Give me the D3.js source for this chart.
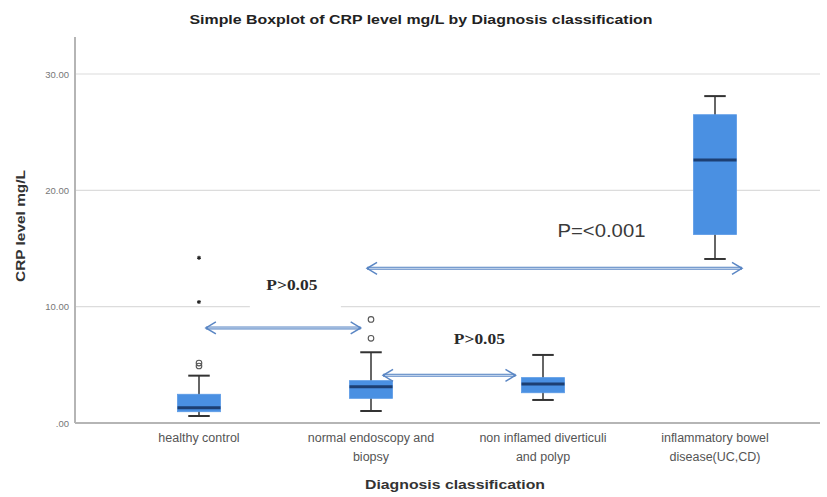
<!DOCTYPE html>
<html>
<head>
<meta charset="utf-8">
<script src="https://cdn.jsdelivr.net/npm/d3@7/dist/d3.min.js"></script>
<style>
  html, body { margin: 0; padding: 0; background: #fff; }
  svg { display: block; }
</style>
</head>
<body>
<svg id="chart" width="827" height="497"></svg>
<script>
// ---- data ----
const categories = [
  ["healthy control"],
  ["normal endoscopy and", "biopsy"],
  ["non inflamed diverticuli", "and polyp"],
  ["inflammatory bowel", "disease(UC,CD)"]
];
const categoryKeys = categories.map(c => c.join(" "));

// five-number summaries: lower whisker, Q1, median, Q3, upper whisker
const lowerWhisker = [0.6, 1.03, 1.98, 14.1];
const q1           = [0.97, 2.12, 2.6, 16.2];
const median       = [1.32, 3.12, 3.35, 22.6];
const q3           = [2.47, 3.64, 3.9, 26.5];
const upperWhisker = [4.07, 6.08, 5.85, 28.1];

// outliers (circles) and extremes (stars), by category index
const outliers = [[0, 5.15], [0, 4.9], [1, 8.9], [1, 7.28]];
const extremes = [[0, 14.2], [0, 10.4]];

const yTicks = [0, 10, 20, 30];

// comparison arrows: from/to in category-index units, at a CRP level
const comparisons = [
  { from: 0.04, to: 0.94, level: 8.17, x0: 0.54, y0: 11.7, label: "P>0.05",   kind: "serif" },
  { from: 1.07, to: 1.84, level: 4.1,  x0: 1.63, y0: 7.1,  label: "P>0.05",   kind: "serif" },
  { from: 0.977, to: 3.157, level: 13.3, x0: 2.34, y0: 16.4, label: "P=<0.001", kind: "sans" }
];

// ---- layout ----
const svg = d3.select("#chart");
const axisX0 = 75, axisX1 = 820, yTop = 37, yBottom = 423;

const x = d3.scalePoint().domain(categoryKeys).range([113, 801]).padding(0.5);
const xi = d3.scaleLinear().domain([0, categoryKeys.length - 1])
  .range([x(categoryKeys[0]), x(categoryKeys[categoryKeys.length - 1])]);
const y = d3.scaleLinear().domain([0, 30]).range([yBottom, 74]);
const boxW = x.step() * 0.25;
const capW = boxW * 0.5;

// title
svg.append("text")
  .attr("x", 421).attr("y", 24)
  .attr("text-anchor", "middle")
  .attr("font-family", "Liberation Sans, Arial, sans-serif")
  .attr("font-size", 12.5).attr("font-weight", "bold")
  .attr("fill", "#222")
  .attr("textLength", 463).attr("lengthAdjust", "spacingAndGlyphs")
  .text("Simple Boxplot of CRP level mg/L by Diagnosis classification");

// gridlines
svg.append("g").selectAll("line")
  .data(yTicks.filter(d => d > 0))
  .join("line")
  .attr("x1", axisX0).attr("x2", axisX1)
  .attr("y1", d => y(d)).attr("y2", d => y(d))
  .attr("stroke", "#dcdcdc").attr("stroke-width", 1.2);

// y axis
const yAxis = d3.axisLeft(y)
  .tickValues(yTicks)
  .tickSize(0)
  .tickPadding(6)
  .tickFormat(d => d === 0 ? ".00" : d3.format(".2f")(d));
const gy = svg.append("g").attr("transform", `translate(${axisX0},0)`).call(yAxis);
gy.select(".domain").remove();
gy.selectAll("text")
  .attr("font-family", "Liberation Sans, Arial, sans-serif")
  .attr("font-size", 9.5).attr("fill", "#777");

svg.append("line")
  .attr("x1", axisX0).attr("x2", axisX0)
  .attr("y1", yTop).attr("y2", yBottom)
  .attr("stroke", "#b5b5b5").attr("stroke-width", 2);
svg.append("line")
  .attr("x1", axisX0).attr("x2", axisX1)
  .attr("y1", yBottom).attr("y2", yBottom)
  .attr("stroke", "#b5b5b5").attr("stroke-width", 2);

// y axis title
svg.append("text")
  .attr("transform", `translate(25,226) rotate(-90)`)
  .attr("text-anchor", "middle")
  .attr("font-family", "Liberation Sans, Arial, sans-serif")
  .attr("font-size", 13).attr("font-weight", "bold")
  .attr("fill", "#333")
  .attr("textLength", 112).attr("lengthAdjust", "spacingAndGlyphs")
  .text("CRP level mg/L");

// x category labels
const xLab = svg.append("g")
  .attr("font-family", "Liberation Sans, Arial, sans-serif")
  .attr("font-size", 12.5).attr("fill", "#555")
  .attr("text-anchor", "middle");
categories.forEach((lines, i) => {
  lines.forEach((ln, j) => {
    xLab.append("text")
      .attr("x", x(categoryKeys[i]))
      .attr("y", 442 + j * 19)
      .text(ln);
  });
});

// x axis title
svg.append("text")
  .attr("x", 455).attr("y", 489)
  .attr("text-anchor", "middle")
  .attr("font-family", "Liberation Sans, Arial, sans-serif")
  .attr("font-size", 13).attr("font-weight", "bold")
  .attr("fill", "#333")
  .attr("textLength", 180).attr("lengthAdjust", "spacingAndGlyphs")
  .text("Diagnosis classification");

// boxes
const boxes = categoryKeys.map((k, i) => ({
  k, lo: lowerWhisker[i], q1: q1[i], med: median[i], q3: q3[i], hi: upperWhisker[i]
}));
const gb = svg.append("g").selectAll("g").data(boxes).join("g")
  .attr("transform", d => `translate(${x(d.k)},0)`);
gb.append("line")
  .attr("x1", 0).attr("x2", 0)
  .attr("y1", d => y(d.hi)).attr("y2", d => y(d.lo))
  .attr("stroke", "#333").attr("stroke-width", 1.5);
gb.append("line")
  .attr("x1", -capW / 2).attr("x2", capW / 2)
  .attr("y1", d => y(d.hi)).attr("y2", d => y(d.hi))
  .attr("stroke", "#333").attr("stroke-width", 2);
gb.append("line")
  .attr("x1", -capW / 2).attr("x2", capW / 2)
  .attr("y1", d => y(d.lo)).attr("y2", d => y(d.lo))
  .attr("stroke", "#333").attr("stroke-width", 2);
gb.append("rect")
  .attr("x", -boxW / 2).attr("width", boxW)
  .attr("y", d => y(d.q3)).attr("height", d => y(d.q1) - y(d.q3))
  .attr("fill", "#4a90e2").attr("stroke", "#5a9ae6").attr("stroke-width", 0.8);
gb.append("line")
  .attr("x1", -boxW / 2).attr("x2", boxW / 2)
  .attr("y1", d => y(d.med)).attr("y2", d => y(d.med))
  .attr("stroke", "#1d3f72").attr("stroke-width", 3);

// outliers
svg.append("g").selectAll("circle").data(outliers).join("circle")
  .attr("cx", d => x(categoryKeys[d[0]]))
  .attr("cy", d => y(d[1]))
  .attr("r", 2.8)
  .attr("fill", "none").attr("stroke", "#555").attr("stroke-width", 1.1);

// extremes
svg.append("g").selectAll("path").data(extremes).join("path")
  .attr("transform", d => `translate(${x(categoryKeys[d[0]])},${y(d[1])})`)
  .attr("d", d3.symbol(d3.symbolAsterisk, 12))
  .attr("fill", "none").attr("stroke", "#222").attr("stroke-width", 1.2);

// comparison arrows with labels
const arrowCol = "#5a86c4";
function chevron(g, px, py, dir) {
  const L = 10, H = 6;
  g.append("path")
    .attr("d", `M${px - dir * L},${py - H} L${px},${py} L${px - dir * L},${py + H}`)
    .attr("fill", "none").attr("stroke", arrowCol).attr("stroke-width", 1.5)
    .attr("stroke-linejoin", "miter");
}
comparisons.forEach(c => {
  const g = svg.append("g");
  const xa = xi(c.from), xb = xi(c.to), yy = y(c.level);
  if (c.kind === "serif") {
    // blank the gridline behind the label
    g.append("rect")
      .attr("x", xi(c.x0) - 42).attr("y", y(c.y0) - 17)
      .attr("width", 91).attr("height", 40)
      .attr("fill", "#fff");
  }
  g.append("line").attr("x1", xa).attr("x2", xb).attr("y1", yy).attr("y2", yy)
    .attr("stroke", arrowCol).attr("stroke-width", 3);
  g.append("line").attr("x1", xa + 2).attr("x2", xb - 2).attr("y1", yy).attr("y2", yy)
    .attr("stroke", "#d6e4f5").attr("stroke-width", 1);
  chevron(g, xa, yy, -1);
  chevron(g, xb, yy, 1);
  const t = g.append("text")
    .attr("x", xi(c.x0)).attr("y", y(c.y0))
    .attr("text-anchor", "middle")
    .attr("fill", "#2a2a2a")
    .text(c.label);
  if (c.kind === "serif") {
    t.attr("font-family", "Liberation Serif, Times New Roman, serif")
      .attr("font-size", 14).attr("font-weight", "bold")
      .attr("dominant-baseline", "middle")
      .attr("textLength", 51).attr("lengthAdjust", "spacingAndGlyphs");
  } else {
    t.attr("font-family", "Liberation Sans, Arial, sans-serif")
      .attr("font-size", 19)
      .attr("dominant-baseline", "middle")
      .attr("fill", "#3a3a3a")
      .attr("textLength", 88).attr("lengthAdjust", "spacingAndGlyphs");
  }
});
</script>
</body>
</html>
